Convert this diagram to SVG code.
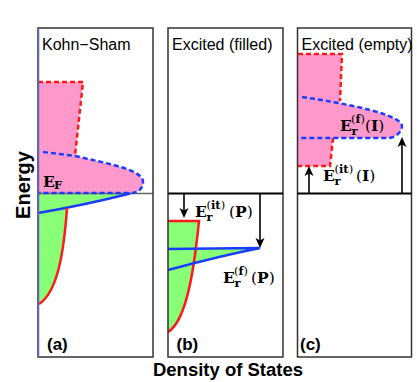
<svg xmlns="http://www.w3.org/2000/svg" width="417" height="382" viewBox="0 0 417 382">
<style>
.frame{fill:none;stroke:#333;stroke-width:1.5}
.pink{fill:#ff99cc;stroke:none}
.green{fill:#88ff77;stroke:none}
.rdash{fill:none;stroke:#ff1a1a;stroke-width:2.5;stroke-dasharray:5,3}
.bdash{fill:none;stroke:#1a3cff;stroke-width:2.5;stroke-dasharray:5,3}
.red{fill:none;stroke:#ff1a1a;stroke-width:2.5}
.blue{fill:none;stroke:#1a3cff;stroke-width:2.5}
.arrow{fill:none;stroke:#000;stroke-width:1.6;marker-end:url(#ah)}
.lvl{stroke:#000;stroke-width:2}
.title{font-family:"Liberation Sans",Arial,sans-serif;font-size:16px;fill:#000}
.tag{font-family:"Liberation Sans",Arial,sans-serif;font-size:17px;font-weight:bold;fill:#000}
.axis{font-family:"Liberation Sans",Arial,sans-serif;font-weight:bold;fill:#000}
.m{font-family:"DejaVu Serif","Liberation Serif",serif;font-size:15.5px;font-weight:bold;fill:#000}
.s{font-size:11.5px}
.p{font-weight:normal}
</style>
<defs>
<marker id="ah" markerWidth="10" markerHeight="10" refX="8" refY="5" orient="auto" markerUnits="userSpaceOnUse">
<path d="M0,0.5 L10,5 L0,9.5 L2.5,5 Z" fill="#000"/>
</marker>
</defs>

<g id="panel-a">
<path class="pink" d="M38,82 L83,82 L75,156 C110,164 143,170 143,182 C143,189 138,193 130,193 L38,193 Z"/>
<path class="green" d="M38,193.5 L130,193.5 Q85,205 38,213 Z"/>
<path class="green" d="M38,205 L67,205 L67,208 C64,250 58,292 39,304 L38,304 Z"/>
<line x1="38" y1="193.5" x2="153" y2="193.5" stroke="#666" stroke-width="1.5"/>
<path class="rdash" d="M38,82 L83,82 L75,156"/>
<path class="bdash" d="M43,152 L75,156 C110,164 143,170 143,182 C143,189 138,193 130,193 L38,193"/>
<path class="blue" d="M130,193.5 Q85,205 38,213"/>
<path class="red" d="M67,208 C64,250 58,292 39,304"/>
<rect class="frame" x="38" y="28" width="115" height="329"/>
<line x1="38.5" y1="28" x2="38.5" y2="357" stroke="#6464c8" stroke-width="1.5"/>
<text class="title" x="42" y="50">Kohn−Sham</text>
<text class="m"><tspan x="43" y="186.5">E</tspan><tspan x="54" y="189" style="font-size:11.5px">F</tspan></text>
<text class="tag" x="47" y="350">(a)</text>
</g>

<g id="panel-b">
<path class="green" d="M168,221 L199,221 C195,260 188,320 168,332 Z"/>
<path class="green" d="M168,249 L260,248 Q220,256 168,270 Z"/>
<path class="red" d="M168,221 L199,221 C195,260 188,320 168,332"/>
<path class="blue" d="M168,249 L260,248 Q220,256 168,270"/>
<rect class="frame" x="168" y="28" width="115" height="329"/>
<line class="lvl" x1="168" y1="193.5" x2="283" y2="193.5"/>
<text class="title" x="172" y="50">Excited (filled)</text>
<text class="tag" x="176.5" y="350">(b)</text>
<text class="m"><tspan x="195" y="217">E</tspan><tspan class="s" x="206.5" y="221">r</tspan><tspan class="s" x="206.5" y="208.5"><tspan class="p">(</tspan>it<tspan class="p">)</tspan></tspan><tspan x="229" y="217"><tspan class="p">(</tspan>P<tspan class="p">)</tspan></tspan></text>
<text class="m"><tspan x="223" y="283">E</tspan><tspan class="s" x="234.5" y="287">r</tspan><tspan class="s" x="234" y="274.5"><tspan class="p">(</tspan>f<tspan class="p">)</tspan></tspan><tspan x="251" y="283"><tspan class="p">(</tspan>P<tspan class="p">)</tspan></tspan></text>
</g>

<g id="panel-c">
<path class="pink" d="M298,54 L342,54 L340,103.5 L298,100 Z"/>
<path class="pink" d="M298,97 L302,97 C350,104 402,115 402,126 C402,132 395,138 388,138 L333,138 L330,166 L298,166 Z"/>
<path class="rdash" d="M298,54 L342,54 L340,101"/>
<path class="rdash" d="M333,138 L330,166 L298,166"/>
<path class="bdash" d="M302,97 C350,104 402,115 402,126 C402,132 395,138 388,138 L298,138"/>
<rect class="frame" x="297.5" y="28" width="114" height="329"/>
<line class="lvl" x1="297.5" y1="193.5" x2="411.5" y2="193.5"/>
<text class="title" x="301.5" y="50">Excited (empty)</text>
<text class="tag" x="300" y="350">(c)</text>
<text class="m"><tspan x="340" y="131">E</tspan><tspan class="s" x="351.5" y="135">r</tspan><tspan class="s" x="351" y="122.5"><tspan class="p">(</tspan>f<tspan class="p">)</tspan></tspan><tspan x="365" y="131"><tspan class="p">(</tspan>I<tspan class="p">)</tspan></tspan></text>
<text class="m"><tspan x="323" y="181">E</tspan><tspan class="s" x="334.5" y="185">r</tspan><tspan class="s" x="334.5" y="172.5"><tspan class="p">(</tspan>it<tspan class="p">)</tspan></tspan><tspan x="356" y="181"><tspan class="p">(</tspan>I<tspan class="p">)</tspan></tspan></text>
</g>

<g id="connectors">
<line class="arrow" x1="184" y1="194" x2="184" y2="216"/>
<line class="arrow" x1="260" y1="194" x2="260" y2="246"/>
<line class="arrow" x1="309" y1="193" x2="309" y2="168"/>
<line class="arrow" x1="402" y1="193" x2="402" y2="139"/>
</g>

<g id="axes">
<text class="axis" style="font-size:20px" text-anchor="middle" transform="translate(30,185) rotate(-90)">Energy</text>
<text class="axis" style="font-size:18.5px" x="228" y="376" text-anchor="middle">Density of States</text>
</g>
</svg>
